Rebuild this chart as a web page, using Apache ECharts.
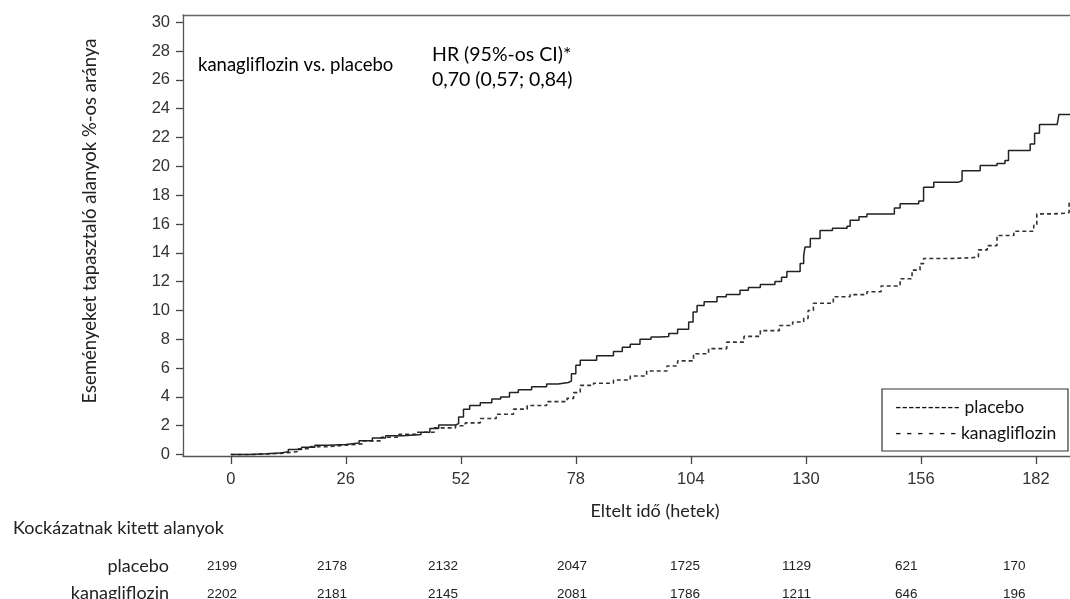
<!DOCTYPE html>
<html>
<head>
<meta charset="utf-8">
<script src="https://cdn.jsdelivr.net/npm/echarts@6/dist/echarts.min.js"></script>
<style>
html,body{margin:0;padding:0;background:#fff;}
#main{width:1070px;height:599px;}
</style>
</head>
<body>
<div id="main"></div>
<script>
// ---- data ----
const yTicks = [0,2,4,6,8,10,12,14,16,18,20,22,24,26,28,30];
const xTicks = [0,26,52,78,104,130,156,182];

const placeboWeeks = [0,4,8,11,13,16,19,22,26,29,32,35,39,43,45,47,50.8,51.5,52.6,54,56.4,59,61,63,65,68,71.4,74,76.3,77,78,79,82.7,86.5,88.5,90.3,92.5,95,97,99,101,103.5,104.5,105.4,107,109.9,112,115.1,117,119.7,123,124.5,125.7,128.7,129.5,129.8,131,133.2,136,139.3,140,142,143.8,148.3,150,151.3,155.5,156.6,158.9,164.5,165.3,169.4,173.2,175,175.8,180.7,181.7,182.8,186.8,187.2,195];
const placeboValues = [0,0.05,0.1,0.2,0.35,0.5,0.65,0.7,0.8,0.95,1.15,1.3,1.4,1.55,1.8,2.05,2.15,2.6,3.15,3.4,3.6,3.85,4.0,4.3,4.5,4.7,4.9,5.0,5.1,5.6,6.2,6.55,6.85,7.15,7.45,7.65,8.0,8.15,8.2,8.4,8.7,9.2,9.9,10.35,10.6,10.95,11.1,11.4,11.6,11.8,12.0,12.3,12.7,13.25,13.8,14.4,15.0,15.55,15.7,15.85,16.25,16.5,16.7,16.7,17.1,17.4,17.6,18.55,18.9,19.0,19.7,20.05,20.2,20.4,21.1,21.55,22.3,22.9,22.9,23.6,23.6];

const kanaWeeks = [0,5,9,12,15,18,22,26,30,34,38,42,46,50.8,53,56.4,60,63.9,67,71.4,76,77.5,79,82,86.5,90.3,94,98.6,101,104.6,108,112.1,116,119.7,124,127,129.5,130.5,131.7,136.2,140,143.8,147,151.3,154,155.8,156.6,162,167.2,169,171,173.2,177,181.5,182.2,186,189,189.5,195];
const kanaValues = [0,0.05,0.1,0.2,0.4,0.55,0.65,0.75,0.95,1.2,1.4,1.55,1.85,2.0,2.2,2.5,2.8,3.15,3.4,3.67,3.9,4.3,4.8,4.95,5.17,5.45,5.8,6.15,6.5,7.0,7.35,7.8,8.2,8.6,8.95,9.2,9.45,10.0,10.5,10.95,11.1,11.3,11.7,12.2,12.8,13.25,13.6,13.65,13.7,14.2,14.5,15.2,15.5,15.9,16.7,16.75,16.8,17.5,17.5];

const riskPlacebo = ['2199','2178','2132','2047','1725','1129','621','170'];
const riskKana = ['2202','2181','2145','2081','1786','1211','646','196'];

// ---- layout (pixels) ----
const riskColX = [207,317,428,557,670,782,895,1003];

const zip = (a,b) => a.map((v,i)=>[v,b[i]]);
const chart = echarts.init(document.getElementById('main'));
const txt = '#000';
const lato = 'Lato';
const arial = '"Liberation Sans", Arial, sans-serif';

const graphics = [
  {type:'text', x:198, y:65, style:{text:'kanagliflozin vs. placebo', font:'18.5px '+lato, fill:txt, textVerticalAlign:'middle'}},
  {type:'text', x:432, y:55, style:{text:'HR (95%-os CI)*', font:'19.5px '+lato, fill:txt, textVerticalAlign:'middle'}},
  {type:'text', x:432, y:80, style:{text:'0,70 (0,57; 0,84)', font:'19.5px '+lato, fill:txt, textVerticalAlign:'middle'}},
  {type:'text', x:90, y:221, rotation:Math.PI/2, style:{text:'Eseményeket tapasztaló alanyok %-os aránya', font:'18.5px '+lato, fill:'#222', textAlign:'center', textVerticalAlign:'middle'}},
  {type:'text', x:655, y:511, style:{text:'Eltelt idő (hetek)', font:'18px '+lato, fill:'#222', textAlign:'center', textVerticalAlign:'middle'}},
  {type:'text', x:13, y:528, style:{text:'Kockázatnak kitett alanyok', font:'18px '+lato, fill:'#222', textVerticalAlign:'middle'}},
  {type:'text', x:169, y:566, style:{text:'placebo', font:'18px '+lato, fill:'#222', textAlign:'right', textVerticalAlign:'middle'}},
  {type:'text', x:169, y:593, style:{text:'kanagliflozin', font:'18px '+lato, fill:'#222', textAlign:'right', textVerticalAlign:'middle'}},
  {type:'rect', shape:{x:882, y:389, width:186, height:62}, style:{fill:'#fff', stroke:'#333', lineWidth:1.2}, z:100},
  {type:'text', x:895, y:407, z:101, style:{text:'---------- placebo', font:'17.5px '+lato, fill:'#111', textVerticalAlign:'middle'}},
  {type:'text', x:895, y:433, z:101, style:{text:'- - - - - - kanagliflozin', font:'17.5px '+lato, fill:'#111', textVerticalAlign:'middle'}}
];
riskPlacebo.forEach((v,i)=>graphics.push({type:'text', x:riskColX[i], y:566, style:{text:v, font:'13.5px '+arial, fill:'#222', textVerticalAlign:'middle'}}));
riskKana.forEach((v,i)=>graphics.push({type:'text', x:riskColX[i], y:594, style:{text:v, font:'13.5px '+arial, fill:'#222', textVerticalAlign:'middle'}}));

chart.setOption({
  animation:false,
  backgroundColor:'#fff',
  grid:{left:183, top:15, right:0, height:441, show:false},
  xAxis:[{
    type:'value', min:-10.8, max:189.7, position:'bottom',
    axisLine:{show:true, onZero:false, lineStyle:{color:'#555', width:1.3}},
    axisTick:{show:true, length:8, customValues:xTicks, lineStyle:{color:'#444', width:1.3}},
    axisLabel:{customValues:xTicks, fontFamily:arial, fontSize:16.5, color:'#333', margin:15},
    splitLine:{show:false}
  },{
    type:'value', min:-10.8, max:189.7, position:'top',
    axisLine:{show:true, onZero:false, lineStyle:{color:'#666', width:1.3}},
    axisTick:{show:false}, axisLabel:{show:false}, splitLine:{show:false}
  }],
  yAxis:{
    type:'value', min:-0.1, max:30.5,
    axisLine:{show:true, onZero:false, lineStyle:{color:'#555', width:1.3}},
    axisTick:{show:true, length:7, customValues:yTicks, lineStyle:{color:'#444', width:1.3}},
    axisLabel:{customValues:yTicks, fontFamily:arial, fontSize:16.5, color:'#333', margin:13},
    splitLine:{show:false}
  },
  series:[
    {name:'kanagliflozin', type:'line', step:'end', showSymbol:false, data:zip(kanaWeeks,kanaValues),
     lineStyle:{color:'#333', width:1.6, type:[4,3]}},
    {name:'placebo', type:'line', step:'end', showSymbol:false, data:zip(placeboWeeks,placeboValues),
     lineStyle:{color:'#222', width:1.5}}
  ],
  graphic:graphics
});
</script>
</body>
</html>
